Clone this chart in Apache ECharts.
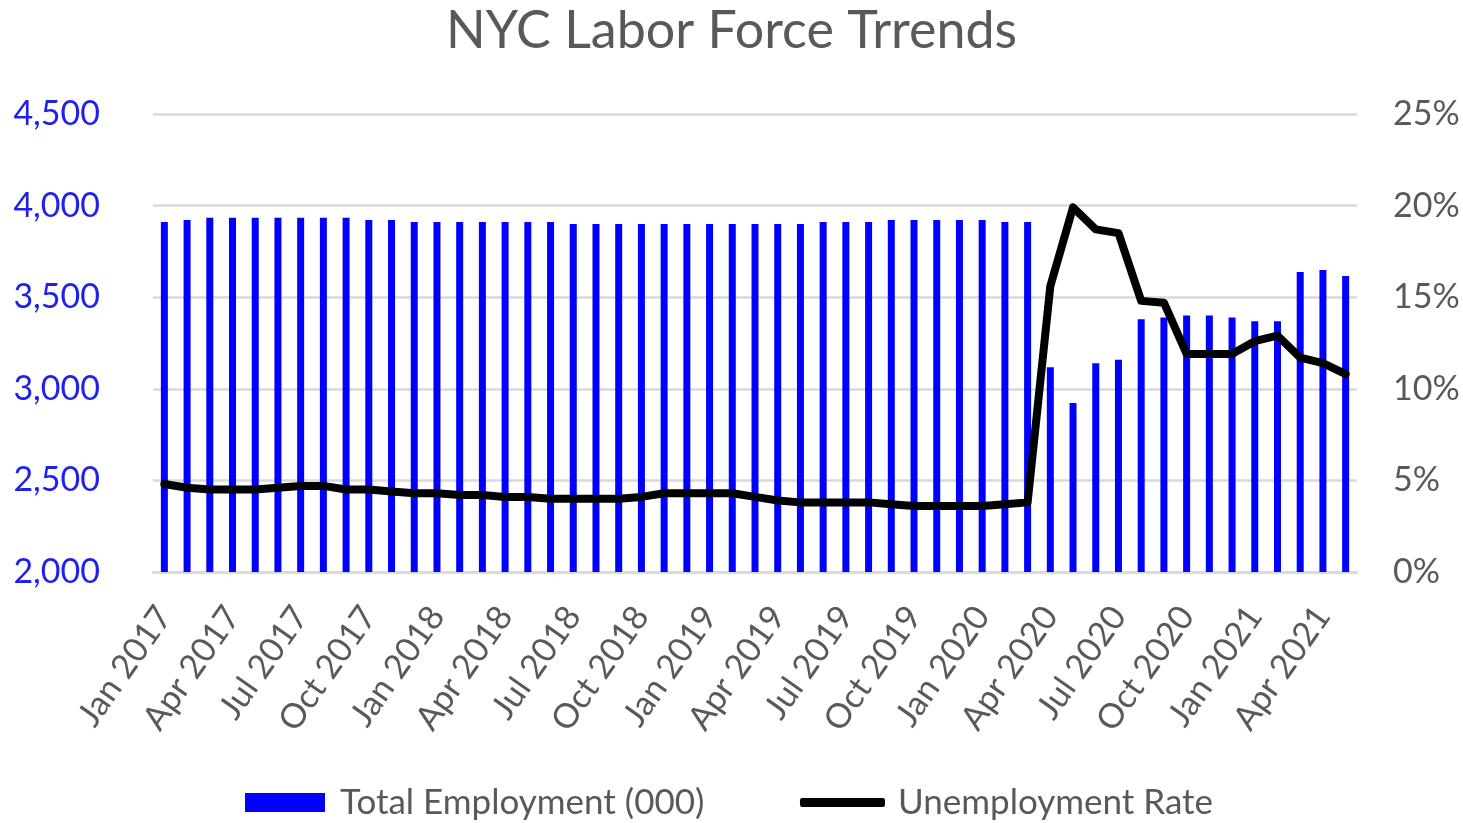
<!DOCTYPE html>
<html>
<head>
<meta charset="utf-8">
<title>NYC Labor Force Trrends</title>
<script src="https://cdn.jsdelivr.net/npm/echarts@6/dist/echarts.min.js"></script>
<style>
  html, body { margin: 0; padding: 0; background: #fff; }
  #chart { width: 1463px; height: 823px; }
</style>
</head>
<body>
<div id="chart"></div>
<script>
// monthly, Jan 2017 - May 2021
const months = [
  'Jan 2017', 'Feb 2017', 'Mar 2017', 'Apr 2017', 'May 2017', 'Jun 2017',
  'Jul 2017', 'Aug 2017', 'Sep 2017', 'Oct 2017', 'Nov 2017', 'Dec 2017',
  'Jan 2018', 'Feb 2018', 'Mar 2018', 'Apr 2018', 'May 2018', 'Jun 2018',
  'Jul 2018', 'Aug 2018', 'Sep 2018', 'Oct 2018', 'Nov 2018', 'Dec 2018',
  'Jan 2019', 'Feb 2019', 'Mar 2019', 'Apr 2019', 'May 2019', 'Jun 2019',
  'Jul 2019', 'Aug 2019', 'Sep 2019', 'Oct 2019', 'Nov 2019', 'Dec 2019',
  'Jan 2020', 'Feb 2020', 'Mar 2020', 'Apr 2020', 'May 2020', 'Jun 2020',
  'Jul 2020', 'Aug 2020', 'Sep 2020', 'Oct 2020', 'Nov 2020', 'Dec 2020',
  'Jan 2021', 'Feb 2021', 'Mar 2021', 'Apr 2021', 'May 2021'
]

// thousands
const totalEmployment = [
  3910, 3921, 3933, 3933, 3933, 3933, 3933, 3933, 3933, 3922, 3922, 3911,
  3911, 3911, 3911, 3911, 3911, 3911, 3900, 3900, 3900, 3900, 3900, 3900,
  3900, 3900, 3900, 3900, 3900, 3911, 3911, 3911, 3922, 3922, 3922, 3922,
  3922, 3911, 3911, 3117, 2922, 3139, 3159, 3380, 3389, 3400, 3400, 3389,
  3369, 3369, 3638, 3649, 3616
]

// percent
const unemploymentRate = [
  4.8, 4.6, 4.5, 4.5, 4.5, 4.6, 4.7, 4.7, 4.5, 4.5, 4.4, 4.3,
  4.3, 4.2, 4.2, 4.1, 4.1, 4.0, 4.0, 4.0, 4.0, 4.1, 4.3, 4.3,
  4.3, 4.3, 4.1, 3.9, 3.8, 3.8, 3.8, 3.8, 3.7, 3.6, 3.6, 3.6,
  3.6, 3.7, 3.8, 15.6, 19.9, 18.7, 18.5, 14.8, 14.7, 11.9, 11.9, 11.9,
  12.6, 12.9, 11.7, 11.4, 10.8
]

const font = 'Lato, "Open Sans", sans-serif'
const grey = '#595959'
const lineGrey = '#d9d9d9'

const chart = echarts.init(document.getElementById('chart'))
chart.setOption({
  animation: false,
  textStyle: { fontFamily: font },
  title: {
    text: 'NYC Labor Force Trrends',
    left: 'center',
    top: 0,
    textStyle: { fontSize: 52, fontWeight: 'normal', color: grey, fontFamily: font }
  },
  legend: [
    {
      data: ['Total Employment (000)'],
      left: 245,
      top: 785,
      padding: 0,
      itemWidth: 80,
      itemHeight: 19,
      icon: 'rect',
      textStyle: { fontSize: 35, color: grey, fontFamily: font, padding: [0, 0, 0, 10] }
    },
    {
      data: ['Unemployment Rate'],
      left: 800,
      top: 785,
      padding: 0,
      itemWidth: 85,
      itemHeight: 9,
      icon: 'roundRect',
      textStyle: { fontSize: 35, color: grey, fontFamily: font, padding: [0, 0, 0, 8] }
    }
  ],
  grid: { left: 153, right: 106, top: 114, bottom: 251 },
  xAxis: {
    type: 'category',
    data: months,
    axisLine: { lineStyle: { color: lineGrey, width: 2.5 } },
    axisTick: { interval: 2, length: 12, lineStyle: { color: lineGrey, width: 2.5 } },
    axisLabel: {
      interval: 2,
      rotate: 55,
      fontSize: 34,
      color: grey,
      margin: 38
    }
  },
  yAxis: [
    {
      type: 'value',
      min: 2000,
      max: 4500,
      interval: 500,
      axisLine: { show: false },
      axisTick: { show: false },
      splitLine: { lineStyle: { color: lineGrey, width: 2.5 } },
      axisLabel: {
        fontSize: 34,
        color: '#1f1fee',
        margin: 53,
        formatter: v => v.toLocaleString('en-US')
      }
    },
    {
      type: 'value',
      min: 0,
      max: 25,
      interval: 5,
      axisLine: { show: false },
      axisTick: { show: false },
      splitLine: { show: false },
      axisLabel: { fontSize: 34, color: grey, margin: 36, formatter: '{value}%' }
    }
  ],
  series: [
    {
      name: 'Total Employment (000)',
      type: 'bar',
      data: totalEmployment,
      barWidth: 7,
      itemStyle: { color: '#0000ff' }
    },
    {
      name: 'Unemployment Rate',
      type: 'line',
      yAxisIndex: 1,
      data: unemploymentRate,
      symbol: 'none',
      lineStyle: { color: '#000', width: 8, join: 'round', cap: 'round' },
      itemStyle: { color: '#000' }
    }
  ]
})
</script>
</body>
</html>
